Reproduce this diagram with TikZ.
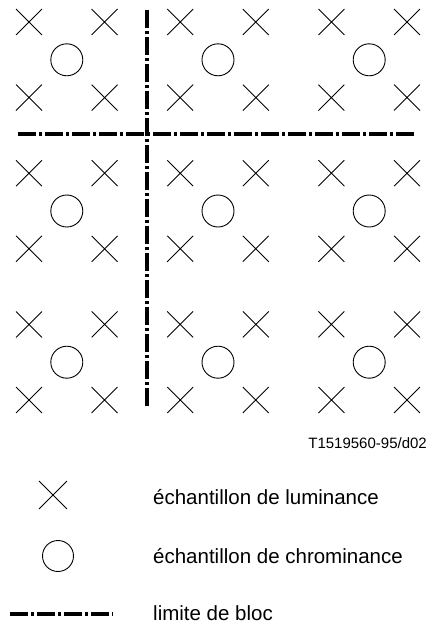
\documentclass[tikz,border=0pt]{standalone}
\usepackage{fontspec}
\setmainfont{Liberation Sans}
\usetikzlibrary{shapes.misc}

\begin{document}
\begin{tikzpicture}[
  x=1pt, y=-1pt,
  luma/.style={draw, cross out, minimum size=25pt, inner sep=0pt, line width=0.9pt},
  chroma/.style={draw, circle, minimum size=32pt, inner sep=0pt, line width=0.9pt},
  blockline/.style={line width=4pt, dash pattern=on 18pt off 3pt on 3pt off 3pt},
  legtext/.style={anchor=base west, inner sep=0pt, font=\fontsize{20.5}{24}\selectfont},
]
\useasboundingbox (0,0) rectangle (433,624);

% luminance samples
\foreach \i in {0,...,5}
  \foreach \j in {0,...,5}
    \node[luma] (lum-\i-\j) at (29+75.6*\i, 22+75.6*\j) {};
% chrominance samples
\foreach \i in {0,1,2}
  \foreach \j in {0,1,2}
    \node[chroma] (chr-\i-\j) at (66.8+151.2*\i, 59.8+151.2*\j) {};

% block limits
\coordinate (vtop) at (147,10);
\coordinate (vbot) at (147,408);
\coordinate (hleft) at (18,134);
\coordinate (hright) at (416,134);
\draw[blockline] (vtop) -- (vbot);
\draw[blockline] (hleft) -- (hright);

\node[anchor=base east, inner sep=0pt, font=\fontsize{15}{18}\selectfont]
  (figid) at (427,448) {T1519560-95/d02};

% legend
\node[luma, minimum size=27pt] (keylum) at (53,495) {};
\node[chroma, minimum size=31pt] (keychr) at (58,556) {};
\coordinate (keyl) at (10,614);
\coordinate (keyr) at (113,614);
\draw[blockline] (keyl) -- (keyr);
\node[legtext] (txtlum) at (153,504) {échantillon de luminance};
\node[legtext] (txtchr) at (153,563) {échantillon de chrominance};
\node[legtext] (txtblk) at (153,620) {limite de bloc};
\end{tikzpicture}
\end{document}
